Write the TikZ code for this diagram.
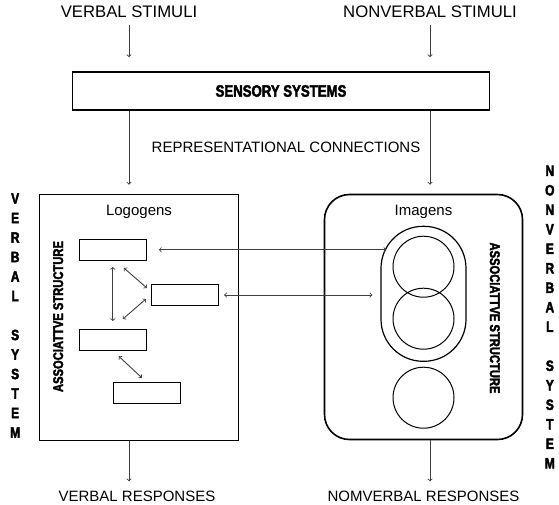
\documentclass[tikz,border=0pt]{standalone}
\usepackage{fontspec}
\setmainfont{Liberation Sans}
\newfontfamily\condfont{Liberation Sans}[FakeStretch=0.8, BoldFeatures={FakeBold=2.5}]
\usetikzlibrary{shapes.geometric, arrows, calc, positioning}
\tikzstyle{system} = [rectangle, line width=1.6pt, draw=black]
\tikzstyle{logogen} = [rectangle, line width=1.2pt, minimum width=67pt, minimum height=21pt, draw=black]
\tikzstyle{imagen} = [circle, line width=1pt, minimum size=61pt, inner sep=0pt, draw=black]
\tikzstyle{arrow} = [line width=0.9pt, ->, >=to, draw=black!75]
\tikzstyle{twoway} = [line width=0.9pt, <->, >=to, draw=black!75]
\tikzstyle{labeltext} = [font=\fontsize{15}{18}\selectfont]
\tikzstyle{heavy} = [font=\condfont\bfseries\fontsize{15}{19.5}\selectfont]

\begin{document}
\begin{tikzpicture}[x=1pt, y=-1pt, node distance=10pt, auto]
		\useasboundingbox (0,0) rectangle (559,504);
		\node (VerbalStimuli) [font=\fontsize{16.7}{20}\selectfont] at (129,12) {VERBAL STIMULI};
		\node (NonverbalStimuli) [font=\fontsize{16.7}{20}\selectfont] at (430,12) {NONVERBAL STIMULI};
		\node (Sensory) [system, minimum width=417pt, minimum height=38pt, font=\condfont\bfseries\fontsize{16.5}{20}\selectfont] at (281,91) {SENSORY SYSTEMS};
		\node (Representational) [labeltext, below = 28pt of Sensory, xshift=5pt] {REPRESENTATIONAL CONNECTIONS};
		\node (Verbal) [system, minimum width=199pt, minimum height=246pt] at (139,317.5) {};
		\node (Nonverbal) [system, rounded corners=25pt, minimum width=198pt, minimum height=245pt] at (423.5,317) {};
		\node (Logogens) [labeltext, below = 8pt of Verbal.north] {Logogens};
		\node (Imagens) [labeltext, below = 8pt of Nonverbal.north] {Imagens};
		% logogens
		\node (Logo1) [logogen, below right = 45pt and 40pt of Verbal.north west] {};
		\node (Logo2) [logogen, below right = 23pt and 4pt of Logo1] {};
		\node (Logo3) [logogen, below left = 23pt and 4pt of Logo2] {};
		\node (Logo4) [logogen, below = 30.5pt of Logo3.south, anchor=north west] {};
		% imagens
		\node (Stadium) [rectangle, rounded corners=42pt, line width=1.2pt, draw=black, minimum width=85pt, minimum height=135pt, below = 32pt of Nonverbal.north] {};
		\node (Img1) [imagen, below = 10pt of Stadium.north] {};
		\node (Img2) [imagen, below = -10pt of Img1] {};
		\node (Img3) [imagen, below = 17pt of Img2] {};
		\node (AssocLeft) [heavy, font=\condfont\bfseries\fontsize{14}{17}\selectfont, rotate=90] at ($(Verbal.west)+(19.5,-1)$) {ASSOCIATTVE STRUCTURE};
		\node (AssocRight) [heavy, font=\condfont\bfseries\fontsize{14}{17}\selectfont, rotate=-90] at ($(Nonverbal.east)+(-28.5,1)$) {ASSOCIATTVE STRUCTURE};
		\node (VerbalSystem) [heavy, align=center, left = 15pt of Verbal.west, yshift=2pt] {V\\E\\R\\B\\A\\L\\[19.5pt]S\\Y\\S\\T\\E\\M};
		\node (NonverbalSystem) [heavy, align=center, right = 18pt of Nonverbal.east] {N\\O\\N\\V\\E\\R\\B\\A\\L\\[19.5pt]S\\Y\\S\\T\\E\\M};
		\node (VerbalResponses) [labeltext, below = 46pt of Verbal.south, xshift=-2pt] {VERBAL RESPONSES};
		\node (NomverbalResponses) [labeltext, below = 47pt of Nonverbal.south] {NOMVERBAL RESPONSES};
		\draw [arrow, shorten <=4pt, shorten >=14pt] (VerbalStimuli) -- (VerbalStimuli |- Sensory.north);
		\draw [arrow, shorten <=4pt, shorten >=14pt] (NonverbalStimuli) -- (NonverbalStimuli |- Sensory.north);
		\draw [arrow, shorten >=9pt] (VerbalStimuli |- Sensory.south) -- (VerbalStimuli |- Verbal.north);
		\draw [arrow, shorten >=9pt] (NonverbalStimuli |- Sensory.south) -- (NonverbalStimuli |- Nonverbal.north);
		\draw [twoway, shorten <=6pt, shorten >=8pt] (Logo1.south) -- (Logo3.north);
		\draw [twoway] ($(Logo1.south)+(11,7)$) -- ($(Logo2.west)+(-4,-7)$);
		\draw [twoway] ($(Logo2.west)+(-5,4)$) -- ($(Logo3.north)+(10,-10)$);
		\draw [twoway] ($(Logo3.south)+(6,5)$) -- ($(Logo4.north)+(-5,-4)$);
		\draw [twoway, shorten <=12pt] (Logo1.east) -- ($(Logo1.east -| Stadium.west)+(6,0)$);
		\draw [twoway, shorten <=5pt, shorten >=8pt] (Logo2.east) -- (Logo2.east -| Stadium.west);
		\draw [arrow, shorten >=6pt] (VerbalStimuli |- Verbal.south) -- (VerbalStimuli |- VerbalResponses.north);
		\draw [arrow, shorten >=6pt] (NonverbalStimuli |- Nonverbal.south) -- (NonverbalStimuli |- NomverbalResponses.north);
\end{tikzpicture}
\end{document}
